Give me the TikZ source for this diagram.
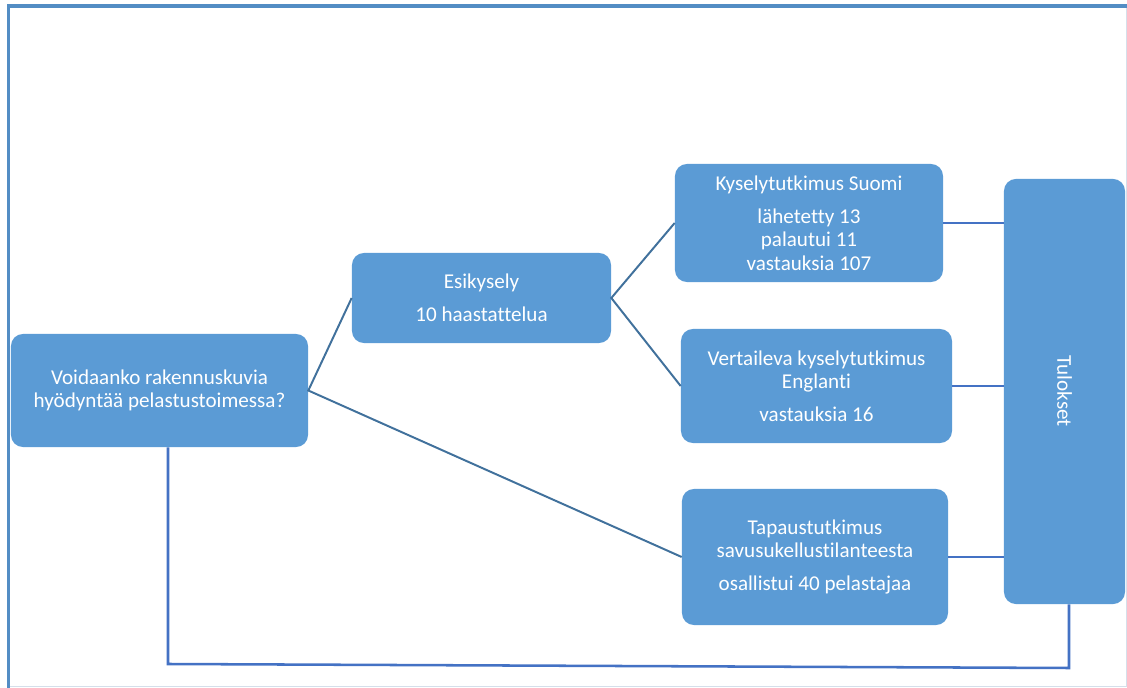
\documentclass[tikz,border=0pt]{standalone}
\usepackage{fontspec}
\setmainfont{Carlito}[Ligatures={NoCommon}]
\usepackage{xcolor}
\usepackage{tikz}

\definecolor{boxblue}{HTML}{5B9BD5}
\definecolor{linkblue}{HTML}{41719C}
\definecolor{barblue}{HTML}{4472C4}
\definecolor{frameblue}{HTML}{538DC4}
\definecolor{framegray}{HTML}{D5DFEA}

\tikzset{
  box/.style={fill=boxblue, rounded corners=0.3cm, text=white, align=center,
    font=\fontsize{15}{16.7}\selectfont, inner sep=0pt},
  link/.style={linkblue, line width=1.4pt},
  bar/.style={barblue, line width=1.8pt},
}

\begin{document}
\begin{tikzpicture}[x=0.025cm, y=-0.025cm]
  \useasboundingbox (0,0) rectangle (1127,688);

  %% frame
  \draw[framegray, line width=0.8pt] (1126.5,7) -- (1126.5,686.5) -- (10,686.5);
  \draw[frameblue, line width=2.2pt] (8.5,688) -- (8.5,6) -- (1127,6);

  %% boxes
  \node[box, minimum width=7.425cm, minimum height=2.825cm] (q) at (159.5,390.5)
    {Voidaanko rakennuskuvia\\hyödyntää pelastustoimessa?};
  \node[box, minimum width=6.475cm, minimum height=2.25cm] (esi) at (481.5,298)
    {Esikysely\\[6.7pt]10 haastattelua};
  \node[box, minimum width=6.7cm, minimum height=2.95cm] (suomi) at (809,223)
    {Kyselytutkimus Suomi\\[6.7pt]lähetetty 13\\palautui 11\\vastauksia 107};
  \node[box, minimum width=6.775cm, minimum height=2.85cm] (engl) at (816.5,386)
    {Vertaileva kyselytutkimus\\Englanti\\[6.7pt]vastauksia 16};
  \node[box, minimum width=6.65cm, minimum height=3.4cm] (tapaus) at (815,557)
    {Tapaustutkimus\\savusukellustilanteesta\\[6.7pt]osallistui 40 pelastajaa};
  \node[box, minimum width=3.025cm, minimum height=10.625cm] (tulos) at (1064.5,391.5) {};
  \node[rotate=-90, text=white, font=\fontsize{15}{16.7}\selectfont] (tulostxt) at (tulos.center) {Tulokset};

  %% links
  \draw[link] (esi.west) -- (q.east) -- (tapaus.west);
  \draw[link] (suomi.west) -- (esi.east) -- (engl.west);

  %% to results
  \draw[bar] (suomi.east) -- (suomi.east -| tulos.west);
  \draw[bar] (engl.east) -- (engl.east -| tulos.west);
  \draw[bar] (tapaus.east) -- (tapaus.east -| tulos.west);

  %% back loop
  \coordinate (bl) at (168,664);
  \coordinate (br) at (1069,668);
  \draw[bar] (q.south -| bl) -- (bl) -- (br) -- (br |- tulos.south);
\end{tikzpicture}
\end{document}
